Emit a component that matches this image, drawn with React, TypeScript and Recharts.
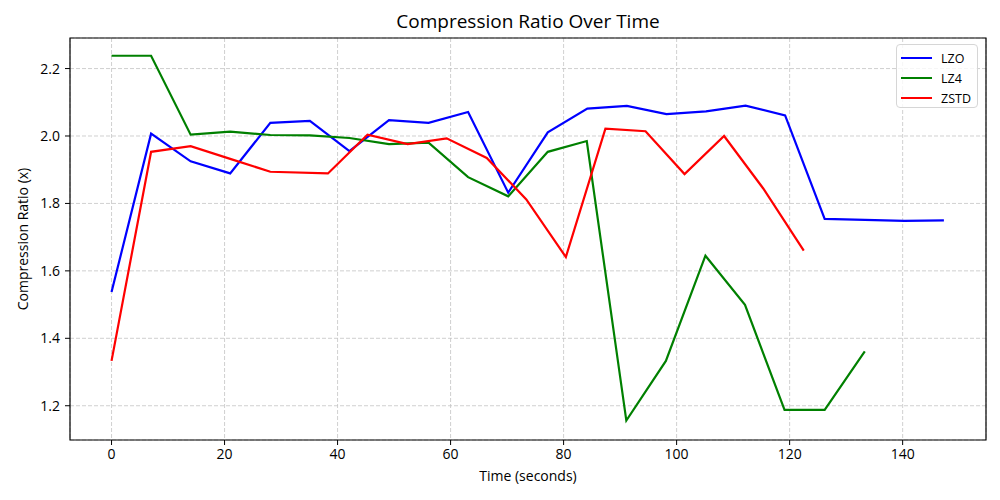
import { CartesianGrid, Line, LineChart, ReferenceArea, XAxis, YAxis } from 'recharts';

const lzoTimes = [0, 7.0, 14.0, 21.0, 28.1, 35.1, 42.1, 49.1, 56.1, 63.1, 70.2, 77.2, 84.2, 91.2, 98.2, 105.2, 112.2, 119.2, 126.2, 133.3, 140.3, 147.3];
const lzoRatios = [1.537, 2.007, 1.925, 1.889, 2.039, 2.045, 1.955, 2.047, 2.039, 2.071, 1.832, 2.011, 2.081, 2.089, 2.065, 2.073, 2.090, 2.061, 1.754, 1.751, 1.748, 1.750];

const lz4Times = [0, 7.0, 14.0, 21.0, 28.1, 35.1, 42.1, 49.1, 56.1, 63.1, 70.2, 77.2, 84.1, 91.1, 98.1, 105.1, 112.1, 119.1, 126.2, 133.3];
const lz4Ratios = [2.238, 2.238, 2.004, 2.013, 2.003, 2.002, 1.994, 1.976, 1.980, 1.878, 1.821, 1.953, 1.985, 1.156, 1.333, 1.645, 1.499, 1.188, 1.188, 1.361];

const zstdTimes = [0, 7.0, 14.0, 21.0, 28.1, 38.3, 45.3, 52.4, 59.3, 66.4, 73.4, 80.4, 87.4, 94.5, 101.4, 108.4, 115.3, 122.5];
const zstdRatios = [1.333, 1.953, 1.970, 1.932, 1.894, 1.889, 2.004, 1.976, 1.993, 1.935, 1.812, 1.641, 2.022, 2.014, 1.887, 2.000, 1.845, 1.660];

const xTicks = [0, 20, 40, 60, 80, 100, 120, 140];
const yTicks = [1.2, 1.4, 1.6, 1.8, 2.0, 2.2];

const X_DOMAIN: [number, number] = [-7.35, 154.75];
const Y_DOMAIN: [number, number] = [1.0984, 2.2906];

const FONT = '"Open Sans", sans-serif';

const toPoints = (times: number[], ratios: number[]) =>
  times.map((t, i) => ({ t, ratio: ratios[i] }));

const SERIES = [
  { name: 'LZO', color: '#0000ff', data: toPoints(lzoTimes, lzoRatios) },
  { name: 'LZ4', color: '#008000', data: toPoints(lz4Times, lz4Ratios) },
  { name: 'ZSTD', color: '#ff0000', data: toPoints(zstdTimes, zstdRatios) },
];

const tickStyle = { fill: '#000', fontSize: 14, fontFamily: FONT };

export default function App() {
  return (
    <div style={{ position: 'absolute', left: 0, top: 0, width: 1000, height: 500, background: '#fff', fontFamily: FONT }}>
      <div
        style={{
          position: 'absolute',
          left: 70,
          width: 916,
          top: 8,
          textAlign: 'center',
          fontSize: 19,
          color: '#000',
        }}
      >
        Compression Ratio Over Time
      </div>
      <div
        style={{
          position: 'absolute',
          left: 70,
          width: 916,
          top: 466,
          textAlign: 'center',
          fontSize: 14,
          color: '#000',
        }}
      >
        Time (seconds)
      </div>
      <div
        style={{
          position: 'absolute',
          left: 22,
          top: 239,
          transform: 'translate(-50%, -50%) rotate(-90deg)',
          whiteSpace: 'nowrap',
          fontSize: 14,
          color: '#000',
        }}
      >
        Compression Ratio (x)
      </div>

      <LineChart width={1000} height={500} margin={{ top: 38, right: 14, bottom: 30, left: 10 }}>
        <CartesianGrid stroke="#c4c4c4" strokeDasharray="4 2" strokeWidth={0.8} />
        <XAxis
          type="number"
          dataKey="t"
          domain={X_DOMAIN}
          ticks={xTicks}
          allowDataOverflow
          height={30}
          tickSize={5}
          tickMargin={4}
          tick={tickStyle}
          axisLine={false}
          tickLine={{ stroke: '#000', strokeWidth: 1 }}
        />
        <YAxis
          type="number"
          domain={Y_DOMAIN}
          ticks={yTicks}
          allowDataOverflow
          width={60}
          tickSize={5}
          tickMargin={5}
          tick={tickStyle}
          tickFormatter={(v: number) => v.toFixed(1)}
          axisLine={false}
          tickLine={{ stroke: '#000', strokeWidth: 1 }}
        />
        {SERIES.map((s) => (
          <Line
            key={s.name}
            data={s.data}
            dataKey="ratio"
            name={s.name}
            type="linear"
            stroke={s.color}
            strokeWidth={2.2}
            dot={false}
            activeDot={false}
            isAnimationActive={false}
          />
        ))}
        <ReferenceArea
          x1={X_DOMAIN[0]}
          x2={X_DOMAIN[1]}
          y1={Y_DOMAIN[0]}
          y2={Y_DOMAIN[1]}
          fill="none"
          stroke="#000"
          strokeWidth={1.2}
          ifOverflow="visible"
        />
      </LineChart>

      <div
        style={{
          position: 'absolute',
          left: 896,
          top: 44,
          width: 82,
          height: 64,
          boxSizing: 'border-box',
          border: '1px solid #d6d6d6',
          borderRadius: 4,
          background: 'rgba(255,255,255,0.8)',
          padding: '3px 0 0 4px',
        }}
      >
        {SERIES.map((s) => (
          <div key={s.name} style={{ display: 'flex', alignItems: 'center', height: 20, fontSize: 12.5, color: '#000' }}>
            <span style={{ display: 'inline-block', width: 31, height: 2.2, background: s.color, marginRight: 9 }} />
            {s.name}
          </div>
        ))}
      </div>
    </div>
  );
}
